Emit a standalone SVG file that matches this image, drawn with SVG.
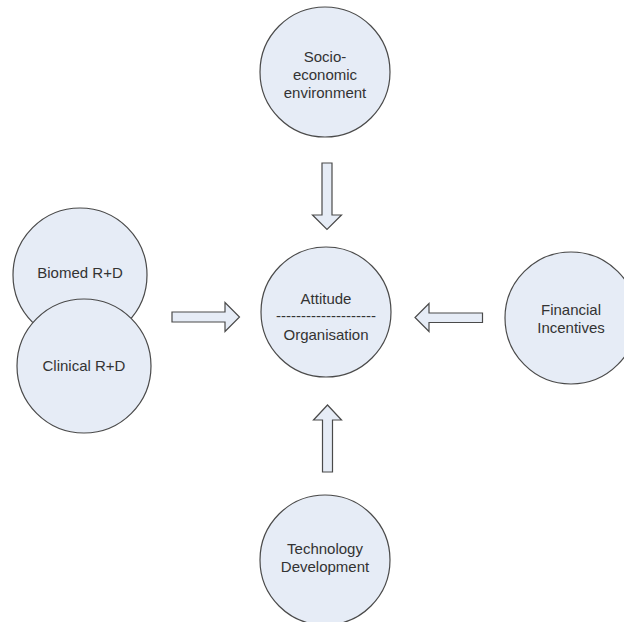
<svg xmlns="http://www.w3.org/2000/svg" width="624" height="622" viewBox="0 0 624 622">
  <style>
    .node { fill: #e6ecf6; stroke: #4a4a4a; stroke-width: 1.2; }
    .arrow { fill: #e6ecf6; stroke: #4a4a4a; stroke-width: 1.2; stroke-linejoin: miter; }
    .label { font-family: "Liberation Sans", Arial, sans-serif; font-size: 15px; fill: #333333; text-anchor: middle; }
  </style>
  <rect width="624" height="622" fill="#ffffff"/>

  <!-- block arrows pointing into the centre -->
  <g id="connectors">
    <path class="arrow" d="M322,163 H332 V215 H341.5 L327,229.5 L312.5,215 H322 Z"/>
    <path class="arrow" d="M322.5,472 H332.5 V420 H341.5 L327.5,405 L313.5,420 H322.5 Z"/>
    <path class="arrow" d="M172,312 V322 H225 V331.5 L239.5,317 L225,302.5 V312 Z"/>
    <path class="arrow" d="M482.5,313 V322.5 H429 V331.5 L415,317.5 L429,303.5 V313 Z"/>
  </g>

  <g id="socio-economic">
    <circle class="node" cx="325" cy="72" r="65"/>
    <text class="label" x="325" y="62">Socio-</text>
    <text class="label" x="325" y="80">economic</text>
    <text class="label" x="325" y="98">environment</text>
  </g>

  <g id="attitude">
    <circle class="node" cx="326" cy="312" r="65"/>
    <text class="label" x="326" y="304">Attitude</text>
    <text class="label" x="326" y="321">--------------------</text>
    <text class="label" x="326" y="340">Organisation</text>
  </g>

  <g id="biomed">
    <circle class="node" cx="80" cy="275" r="67"/>
    <text class="label" x="80" y="278">Biomed R+D</text>
  </g>

  <g id="clinical">
    <circle class="node" cx="84" cy="366" r="67"/>
    <text class="label" x="84" y="371">Clinical R+D</text>
  </g>

  <g id="financial">
    <circle class="node" cx="571" cy="318" r="66"/>
    <text class="label" x="571" y="315">Financial</text>
    <text class="label" x="571" y="333">Incentives</text>
  </g>

  <g id="technology">
    <circle class="node" cx="325" cy="560" r="65"/>
    <text class="label" x="325" y="554">Technology</text>
    <text class="label" x="325" y="572">Development</text>
  </g>
</svg>
